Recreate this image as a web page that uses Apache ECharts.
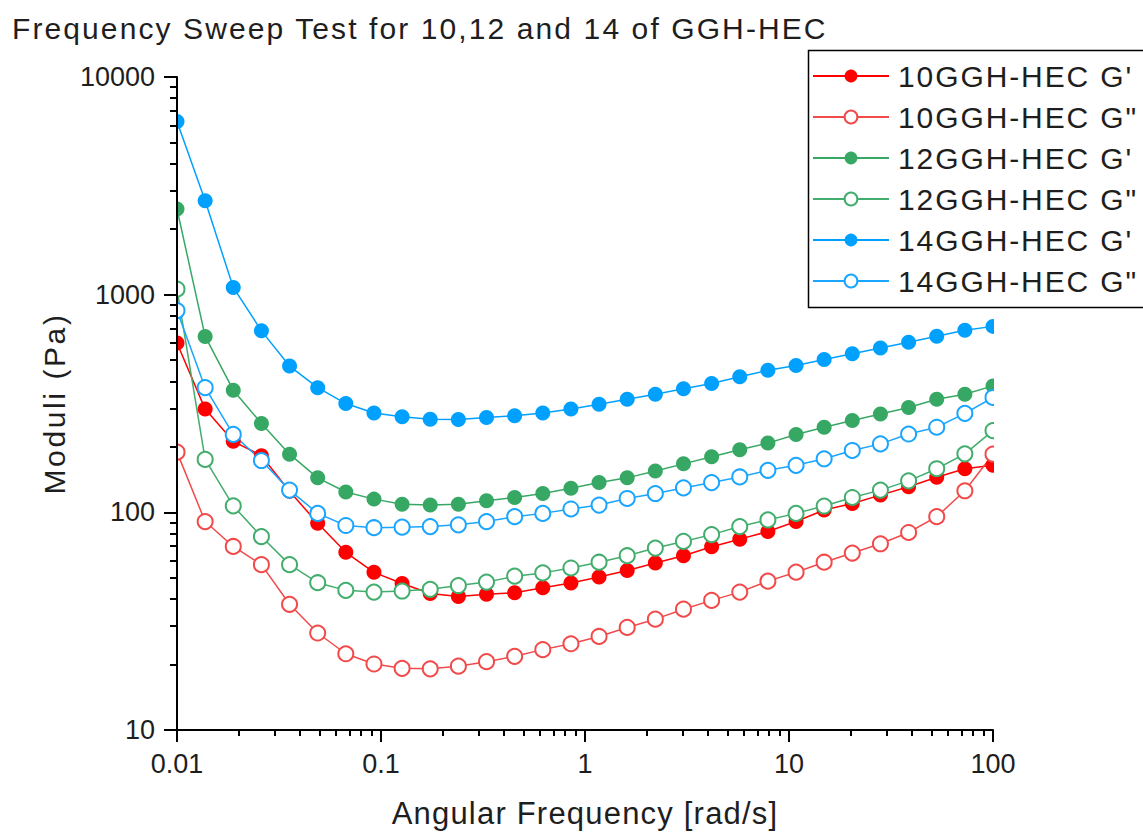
<!DOCTYPE html>
<html>
<head>
<meta charset="utf-8">
<title>Frequency Sweep Test</title>
<script src="https://cdn.jsdelivr.net/npm/echarts@6/dist/echarts.min.js"></script>
<style>
  html, body { margin: 0; padding: 0; background: #fff; }
  #chart { width: 1143px; height: 834px; }
</style>
</head>
<body>
<div id="chart"></div>
<script>
// Angular frequency of each measured point [rad/s]
const freq = [
  0.01, 0.01374, 0.01887, 0.02593, 0.03562, 0.04894, 0.06723, 0.09237, 0.1269, 0.1743,
  0.2395, 0.3290, 0.4520, 0.6210, 0.8532, 1.172, 1.610, 2.212, 3.039, 4.175,
  5.736, 7.880, 10.83, 14.87, 20.43, 28.07, 38.57, 52.98, 72.79, 100
];

// Storage (G') and loss (G") moduli [Pa]
const g10Storage = [
  600, 298, 212, 182, 125, 89, 65.5, 53, 47.1, 42.4,
  41, 42, 42.7, 45, 47.4, 50.5, 54, 58.5, 63.2, 69.5,
  75.3, 81.6, 90.7, 102.5, 109.8, 120, 131, 145, 158.6, 164.4
];
const g10Loss = [
  189, 90.7, 69.7, 57.5, 37.8, 27.9, 22.4, 20.1, 19.2, 19.1,
  19.65, 20.6, 21.8, 23.4, 24.9, 26.9, 29.6, 32.3, 35.9, 39.4,
  43, 48.3, 53.1, 59, 65, 71.7, 80.8, 95.5, 125.6, 185
];
const g12Storage = [
  2475, 643, 364, 256, 185, 144, 124, 115, 109, 108,
  109, 113, 117, 122, 129, 137, 144, 155, 167, 180,
  194, 208, 228, 246, 264, 283, 303, 331, 349, 381
];
const g12Loss = [
  1060, 175, 107, 77.4, 57.5, 47.5, 43.8, 43, 43.5, 44.3,
  46.1, 47.8, 50.9, 52.7, 55.5, 59, 63.2, 68.5, 73.5, 79,
  86, 92.3, 98.9, 106.9, 117, 126.5, 139.5, 158.6, 185.7, 237.5
];
const g14Storage = [
  6240, 2700, 1080, 682, 470, 374, 316, 286, 275, 268,
  267, 273, 278, 286, 298, 314, 331, 349, 370, 391,
  420, 449, 473, 504, 535, 569, 604, 644, 686, 715
];
const g14Loss = [
  845, 374, 228, 173, 126.5, 98.9, 87, 85, 85.5, 86,
  87.6, 90.7, 95.5, 98.9, 103.6, 108, 115.8, 122, 129.5, 137,
  145.4, 156, 164.4, 176.2, 192.4, 206.3, 229, 246, 285, 337
];

const seriesNames = [
  "10GGH-HEC G'", '10GGH-HEC G"',
  "12GGH-HEC G'", '12GGH-HEC G"',
  "14GGH-HEC G'", '14GGH-HEC G"'
];
const seriesValues = [g10Storage, g10Loss, g12Storage, g12Loss, g14Storage, g14Loss];
const seriesColors = ['#ff0000', '#f24a4a', '#37a864', '#42ad6c', '#00a0ff', '#1aa5ff'];
const seriesFilled = [true, false, true, false, true, false];

// Axis ticks and labels
const xMajor = [0.01, 0.1, 1, 10, 100];
const xMinor = [
  0.02, 0.03, 0.04, 0.05, 0.06, 0.07, 0.08, 0.09,
  0.2, 0.3, 0.4, 0.5, 0.6, 0.7, 0.8, 0.9,
  2, 3, 4, 5, 6, 7, 8, 9,
  20, 30, 40, 50, 60, 70, 80, 90
];
const yMajor = [10, 100, 1000, 10000];
const yMinor = [
  20, 30, 40, 50, 60, 70, 80, 90,
  200, 300, 400, 500, 600, 700, 800, 900,
  2000, 3000, 4000, 5000, 6000, 7000, 8000, 9000
];

const titleText = 'Frequency Sweep Test for 10,12 and 14 of GGH-HEC';
const xName = 'Angular Frequency [rad/s]';
const yName = 'Moduli (Pa)';

const FONT = '"Liberation Sans", Arial, sans-serif';
const INK = '#1e1e1e';
const axisLineStyle = { color: '#000', width: 2 };

const chart = echarts.init(document.getElementById('chart'), null, { renderer: 'svg' });

const series = seriesNames.map((name, k) => ({
  name,
  type: 'line',
  xAxisIndex: 0,
  yAxisIndex: 0,
  data: freq.map((f, i) => [f, seriesValues[k][i]]),
  symbol: seriesFilled[k] ? 'circle' : 'emptyCircle',
  symbolSize: 15,
  lineStyle: { color: seriesColors[k], width: 1.5 },
  itemStyle: {
    color: seriesColors[k],
    borderColor: seriesColors[k],
    borderWidth: seriesFilled[k] ? 0 : 1.5
  },
  emphasis: { disabled: true },
  z: 2
}));

function minorAxis(extra) {
  return Object.assign({
    type: 'log',
    logBase: 10,
    axisLine: { show: false },
    axisLabel: { show: false },
    splitLine: { show: false },
    z: 5
  }, extra);
}

const option = {
  animation: false,
  backgroundColor: '#fff',
  title: {
    text: titleText,
    left: 12,
    top: 13,
    padding: 0,
    textStyle: { fontFamily: FONT, fontSize: 30, fontWeight: 'normal', color: INK }
  },
  legend: {
    orient: 'vertical',
    left: 808,
    top: 50,
    padding: [11, 10, 11, 4],
    itemGap: 11,
    itemWidth: 76,
    itemHeight: 16,
    borderWidth: 0,
    backgroundColor: 'transparent',
    z: 8,
    data: seriesNames,
    textStyle: { fontFamily: FONT, fontSize: 30, color: INK, padding: [0, 0, 0, 4] }
  },
  grid: { left: 177, right: 150, top: 77, bottom: 99, containLabel: false },
  xAxis: [
    {
      type: 'log',
      logBase: 10,
      min: 0.01,
      max: 100,
      position: 'bottom',
      name: xName,
      nameLocation: 'middle',
      nameGap: 68,
      nameTextStyle: { fontFamily: FONT, fontSize: 31, color: INK },
      axisLine: { lineStyle: axisLineStyle },
      axisTick: { length: 12, lineStyle: axisLineStyle, customValues: xMajor },
      axisLabel: {
        customValues: xMajor,
        margin: 20,
        fontFamily: FONT,
        fontSize: 27,
        color: INK,
        formatter: v => String(+v.toPrecision(6))
      },
      splitLine: { show: false },
      z: 5
    },
    minorAxis({
      min: 0.01,
      max: 100,
      position: 'bottom',
      axisTick: { length: 6, lineStyle: axisLineStyle, customValues: xMinor }
    })
  ],
  yAxis: [
    {
      type: 'log',
      logBase: 10,
      min: 10,
      max: 10000,
      position: 'left',
      name: yName,
      nameLocation: 'middle',
      nameGap: 104,
      nameTextStyle: { fontFamily: FONT, fontSize: 30, color: INK },
      axisLine: { lineStyle: axisLineStyle },
      axisTick: { length: 13, lineStyle: axisLineStyle, customValues: yMajor },
      axisLabel: {
        customValues: yMajor,
        margin: 22,
        fontFamily: FONT,
        fontSize: 27,
        color: INK,
        formatter: v => String(Math.round(v))
      },
      splitLine: { show: false },
      z: 5
    },
    minorAxis({
      min: 10,
      max: 10000,
      position: 'left',
      axisTick: { length: 7, lineStyle: axisLineStyle, customValues: yMinor }
    })
  ],
  graphic: [
    // white margins that trim markers sitting on the plot edges
    { type: 'rect', z: 3, silent: true, shape: { x: 150, y: 60, width: 26, height: 690 }, style: { fill: '#fff' } },
    { type: 'rect', z: 3, silent: true, shape: { x: 994, y: 60, width: 149, height: 690 }, style: { fill: '#fff' } },
    // legend frame, running past the right edge of the page
    { type: 'rect', z: 7, silent: true, shape: { x: 808.5, y: 50.5, width: 400, height: 257 },
      style: { fill: '#fff', stroke: '#000', lineWidth: 1.5 } }
  ],
  series
};

chart.setOption(option);

// Wider tracking for the title, legend entries and axis names
const tracking = new Map([
  [titleText, '2.1px'],
  [xName, '1.2px'],
  [yName, '2.6px']
]);
seriesNames.forEach(n => tracking.set(n, '1.9px'));

function applyTracking() {
  document.querySelectorAll('#chart text').forEach(t => {
    const s = tracking.get(t.textContent);
    if (s) t.style.letterSpacing = s;
  });
}
chart.on('finished', applyTracking);
applyTracking();
</script>
</body>
</html>
